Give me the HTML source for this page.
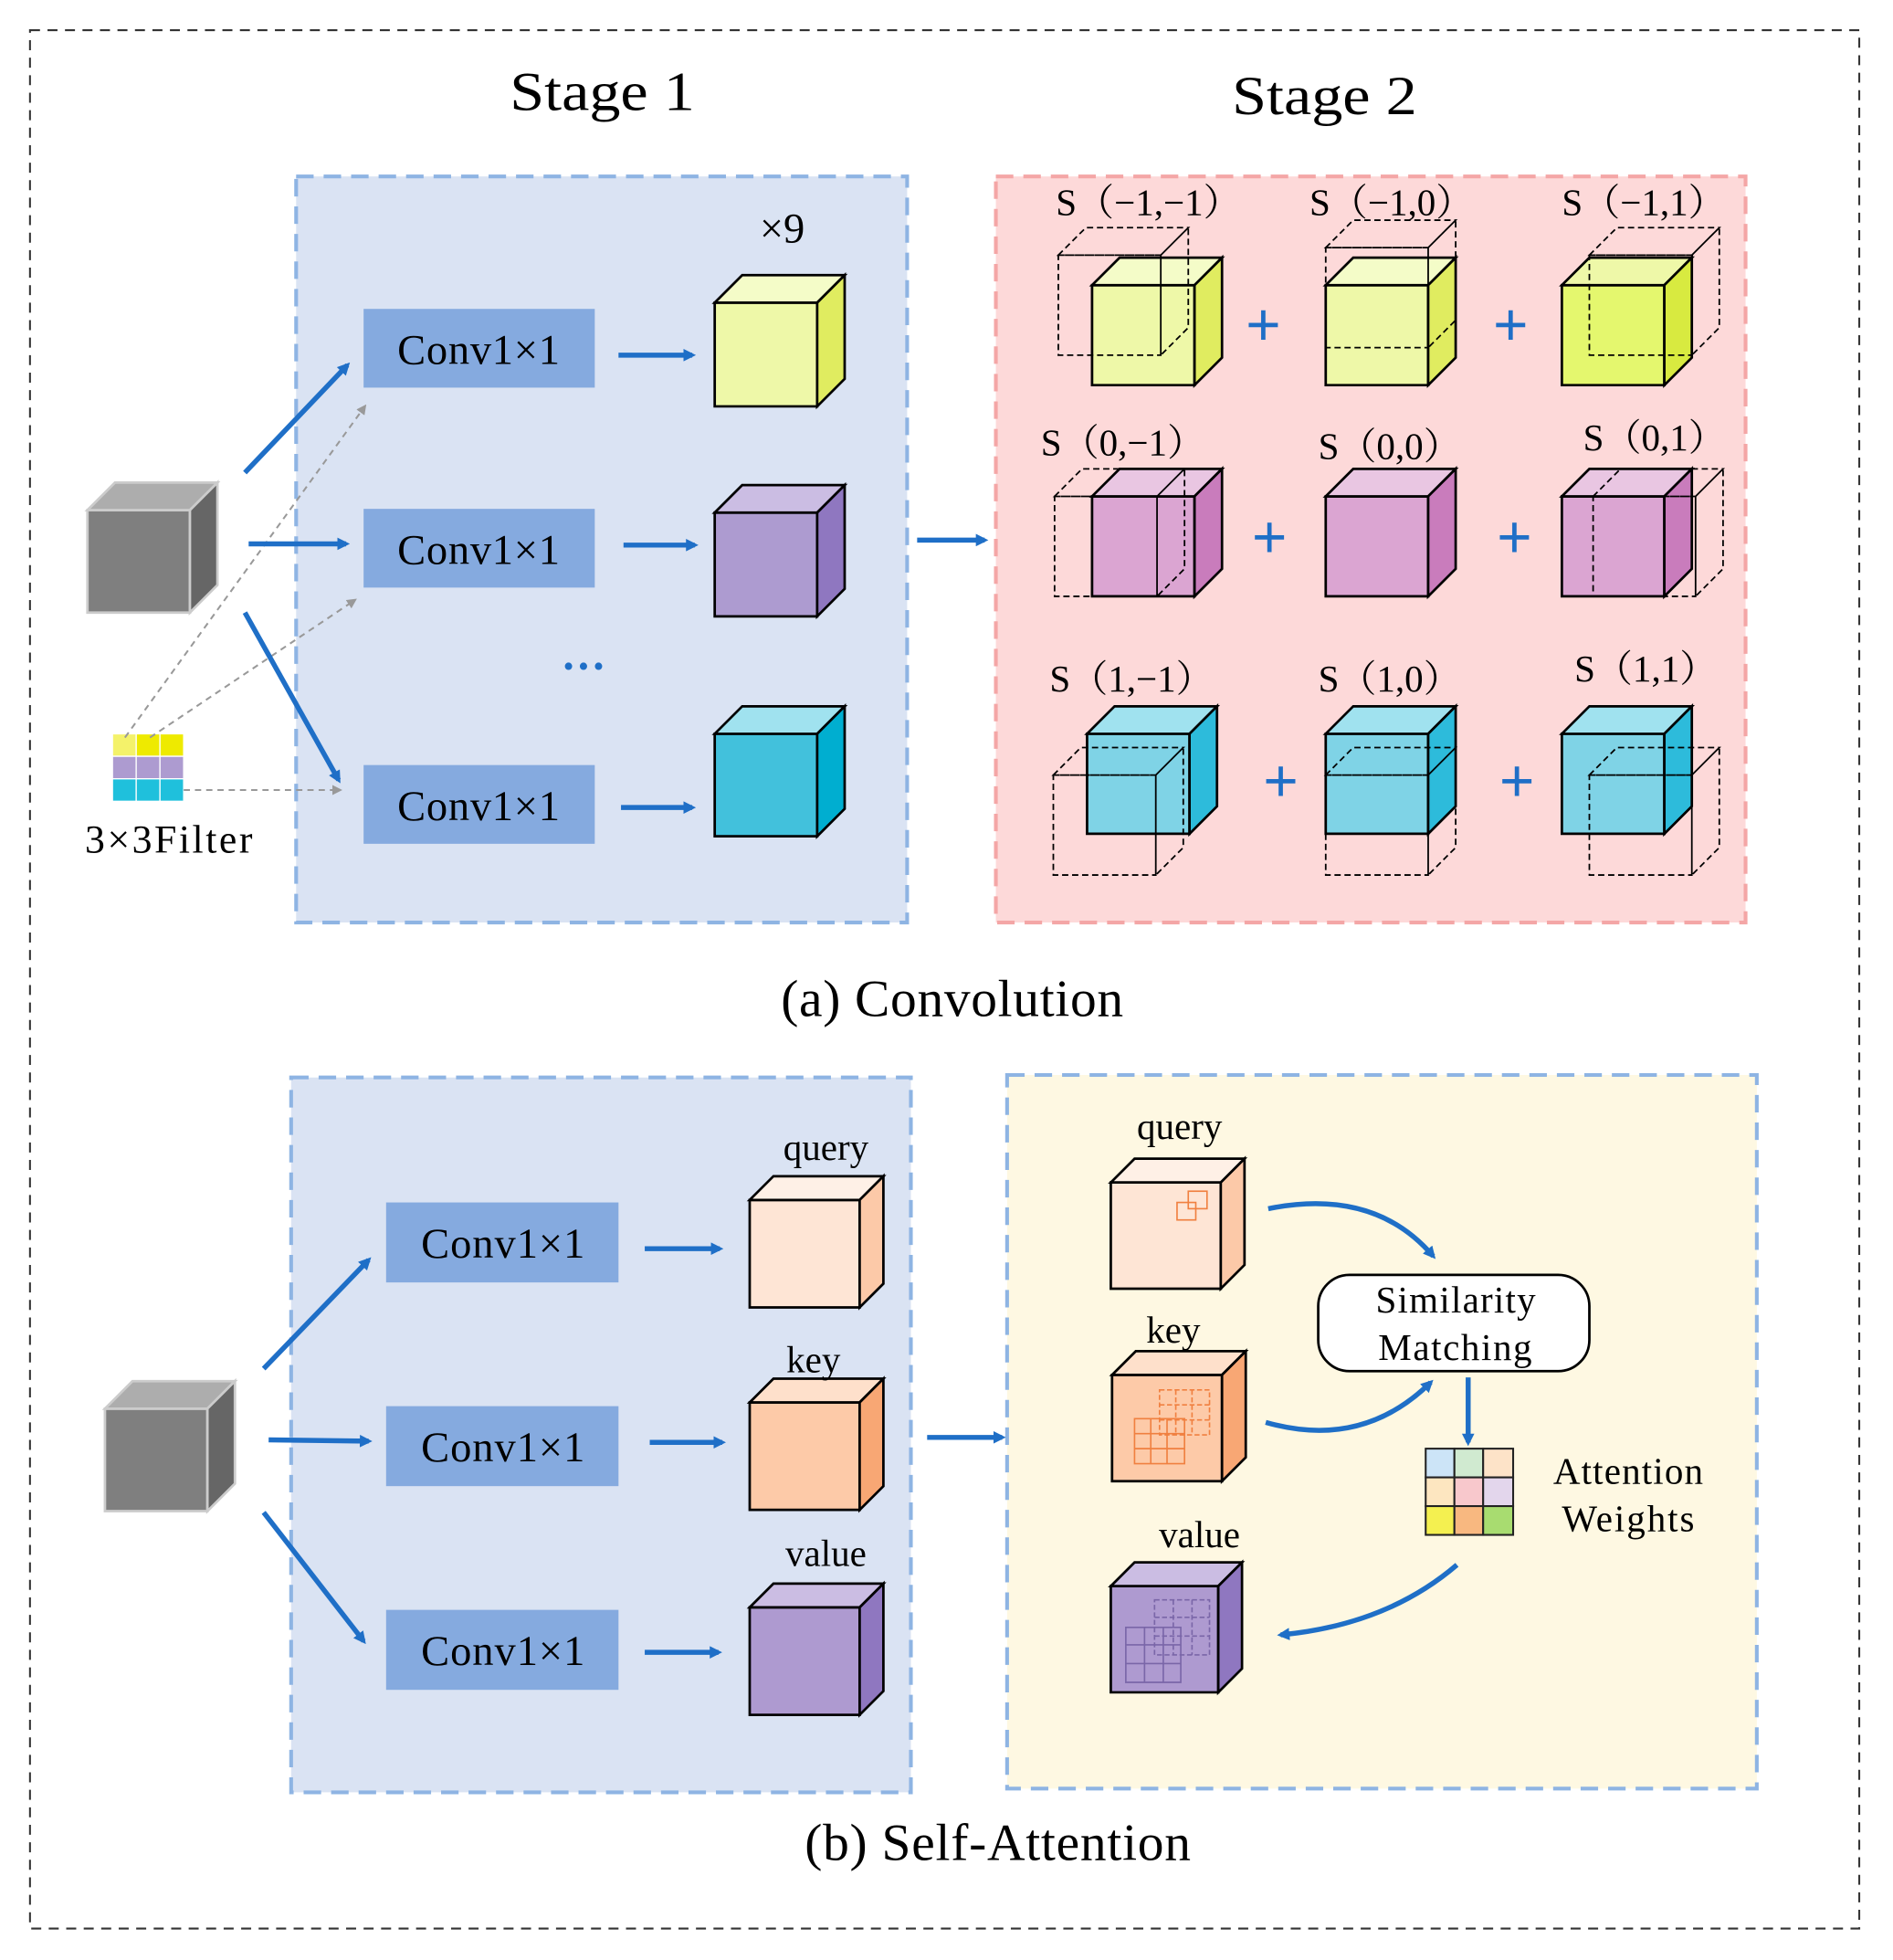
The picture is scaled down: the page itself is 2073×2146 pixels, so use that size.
<!DOCTYPE html>
<html><head><meta charset="utf-8"><style>html,body{margin:0;padding:0;background:#fff}svg{display:block}</style></head>
<body>
<svg width="2073" height="2146" viewBox="0 0 1515 1568" xmlns="http://www.w3.org/2000/svg" font-family="Liberation Serif, serif">
<defs>
<marker id="ah" markerWidth="10" markerHeight="10" refX="7" refY="5" orient="auto" markerUnits="userSpaceOnUse"><path d="M0,0 L10,5 L0,10 Z" fill="#1f6fc7"/></marker>
<marker id="ag" markerWidth="8" markerHeight="8" refX="6" refY="4" orient="auto" markerUnits="userSpaceOnUse"><path d="M0,0 L8,4 L0,8 Z" fill="#999"/></marker>
</defs>
<rect x="24" y="24" width="1464" height="1519" fill="none" stroke="#333" stroke-width="1.5" stroke-dasharray="8,6"/>
<text x="408" y="88" font-size="44" textLength="148" lengthAdjust="spacingAndGlyphs">Stage 1</text>
<text x="986" y="91" font-size="44" textLength="148" lengthAdjust="spacingAndGlyphs">Stage 2</text>
<rect x="237" y="141" width="489" height="597" fill="#dae3f3" stroke="#8eb4e3" stroke-width="3" stroke-dasharray="14,8"/>
<rect x="797" y="141" width="600" height="597" fill="#fdd9d9" stroke="#f4a6a6" stroke-width="3" stroke-dasharray="14,8"/>
<g fill="#85aadf"><rect x="291" y="247" width="185" height="63"/><rect x="291" y="407" width="185" height="63"/><rect x="291" y="612" width="185" height="63"/></g>
<g font-size="34"><text x="318" y="291" textLength="130">Conv1×1</text><text x="318" y="451" textLength="130">Conv1×1</text><text x="318" y="656" textLength="130">Conv1×1</text></g>
<g stroke="#000" stroke-width="2">
<path d="M572,242h82v83h-82z" fill="#eef8a8"/><path d="M572,242l22,-22h82l-22,22z" fill="#f4fcc8"/><path d="M654,242l22,-22v83l-22,22z" fill="#e0ec60"/>
<path d="M572,410h82v83h-82z" fill="#ad9bd0"/><path d="M572,410l22,-22h82l-22,22z" fill="#cbbde3"/><path d="M654,410l22,-22v83l-22,22z" fill="#8f77c0"/>
<path d="M572,587h82v82h-82z" fill="#42c1dc"/><path d="M572,587l22,-22h82l-22,22z" fill="#a0e2ef"/><path d="M654,587l22,-22v82l-22,22z" fill="#00aed0"/>
</g>
<g stroke="#ccc" stroke-width="2">
<path d="M70,408h82v82h-82z" fill="#7f7f7f"/><path d="M70,408l22,-22h82l-22,22z" fill="#adadad"/><path d="M152,408l22,-22v82l-22,22z" fill="#666"/>
</g>
<g stroke="#fff" stroke-width="1">
<rect x="90" y="587" width="19" height="18" fill="#f4f26a"/><rect x="109" y="587" width="19" height="18" fill="#eeea00"/><rect x="128" y="587" width="19" height="18" fill="#eeea00"/>
<rect x="90" y="605" width="19" height="18" fill="#ad9bd0"/><rect x="109" y="605" width="19" height="18" fill="#ad9bd0"/><rect x="128" y="605" width="19" height="18" fill="#ad9bd0"/>
<rect x="90" y="623" width="19" height="18" fill="#1fc0dc"/><rect x="109" y="623" width="19" height="18" fill="#1fc0dc"/><rect x="128" y="623" width="19" height="18" fill="#1fc0dc"/>
</g>
<text x="68" y="682" font-size="32" textLength="134">3×3Filter</text>
<text x="626" y="194" font-size="34" text-anchor="middle">×9</text>
<text x="467" y="545" font-size="36" fill="#1f6fc7" text-anchor="middle" font-weight="bold">···</text>
<g stroke="#999" stroke-width="1.5" stroke-dasharray="5,4" fill="none">
<path d="M100,590 L292,325" marker-end="url(#ag)"/><path d="M120,590 L284,480" marker-end="url(#ag)"/><path d="M147,632 L272,632" marker-end="url(#ag)"/>
</g>
<g stroke="#1f6fc7" stroke-width="4" fill="none">
<path d="M196,378 L278,292" marker-end="url(#ah)"/><path d="M199,435 L277,435" marker-end="url(#ah)"/><path d="M196,490 L271,624" marker-end="url(#ah)"/>
<path d="M495,284 L554,284" marker-end="url(#ah)"/><path d="M499,436 L556,436" marker-end="url(#ah)"/><path d="M497,646 L554,646" marker-end="url(#ah)"/>
<path d="M734,432 L788,432" marker-end="url(#ah)"/>
</g>
<g stroke="#000" stroke-width="2">
<path d="M874,228h82v80h-82z" fill="#eef8a8"/><path d="M874,228l22,-22h82l-22,22z" fill="#f4fcc8"/><path d="M956,228l22,-22v80l-22,22z" fill="#e0ec60"/>
<path d="M1061,228h82v80h-82z" fill="#eef8a8"/><path d="M1061,228l22,-22h82l-22,22z" fill="#f4fcc8"/><path d="M1143,228l22,-22v80l-22,22z" fill="#e0ec60"/>
<path d="M1250,228h82v80h-82z" fill="#e4f76e"/><path d="M1250,228l22,-22h82l-22,22z" fill="#eef8a8"/><path d="M1332,228l22,-22v80l-22,22z" fill="#d8ea40"/>
<path d="M874,397h82v80h-82z" fill="#dba5d2"/><path d="M874,397l22,-22h82l-22,22z" fill="#e9c6e2"/><path d="M956,397l22,-22v80l-22,22z" fill="#c97cbc"/>
<path d="M1061,397h82v80h-82z" fill="#dba5d2"/><path d="M1061,397l22,-22h82l-22,22z" fill="#e9c6e2"/><path d="M1143,397l22,-22v80l-22,22z" fill="#c97cbc"/>
<path d="M1250,397h82v80h-82z" fill="#dba5d2"/><path d="M1250,397l22,-22h82l-22,22z" fill="#e9c6e2"/><path d="M1332,397l22,-22v80l-22,22z" fill="#c97cbc"/>
<path d="M870,587h82v80h-82z" fill="#7fd3e6"/><path d="M870,587l22,-22h82l-22,22z" fill="#a0e2ef"/><path d="M952,587l22,-22v80l-22,22z" fill="#2dbbdb"/>
<path d="M1061,587h82v80h-82z" fill="#7fd3e6"/><path d="M1061,587l22,-22h82l-22,22z" fill="#a0e2ef"/><path d="M1143,587l22,-22v80l-22,22z" fill="#2dbbdb"/>
<path d="M1250,587h82v80h-82z" fill="#7fd3e6"/><path d="M1250,587l22,-22h82l-22,22z" fill="#a0e2ef"/><path d="M1332,587l22,-22v80l-22,22z" fill="#2dbbdb"/>
</g>
<g stroke="#000" stroke-width="1.3" stroke-dasharray="5,3" fill="none">
<path d="M847,204h82v80h-82z M847,204l22,-22h82l-22,22z M929,204l22,-22v80l-22,22z"/>
<path d="M1061,198h82v80h-82z M1061,198l22,-22h82l-22,22z M1143,198l22,-22v80l-22,22z"/>
<path d="M1272,204h82v80h-82z M1272,204l22,-22h82l-22,22z M1354,204l22,-22v80l-22,22z"/>
<path d="M844,397h82v80h-82z M844,397l22,-22h82l-22,22z M926,397l22,-22v80l-22,22z"/>
<path d="M1275,397h82v80h-82z M1275,397l22,-22h82l-22,22z M1357,397l22,-22v80l-22,22z"/>
<path d="M843,620h82v80h-82z M843,620l22,-22h82l-22,22z M925,620l22,-22v80l-22,22z"/>
<path d="M1061,620h82v80h-82z M1061,620l22,-22h82l-22,22z M1143,620l22,-22v80l-22,22z"/>
<path d="M1272,620h82v80h-82z M1272,620l22,-22h82l-22,22z M1354,620l22,-22v80l-22,22z"/>
</g>
<g font-size="30" font-family="Liberation Serif, 'Noto Serif CJK SC', serif">
<text x="845" y="172">S（−1,−1）</text><text x="1048" y="172">S（−1,0）</text><text x="1250" y="172">S（−1,1）</text>
<text x="833" y="364">S（0,−1）</text><text x="1055" y="367">S（0,0）</text><text x="1267" y="360">S（0,1）</text>
<text x="840" y="553">S（1,−1）</text><text x="1055" y="553">S（1,0）</text><text x="1260" y="545">S（1,1）</text>
</g>
<g font-size="48" fill="#1f6fc7" text-anchor="middle" font-family="Liberation Sans, sans-serif">
<text x="1011" y="276">+</text><text x="1209" y="276">+</text>
<text x="1016" y="446">+</text><text x="1212" y="446">+</text>
<text x="1025" y="641">+</text><text x="1214" y="641">+</text>
</g>
<text x="625" y="813" font-size="42" textLength="274">(a) Convolution</text>
<rect x="233" y="862" width="496" height="572" fill="#dae3f3" stroke="#8eb4e3" stroke-width="3" stroke-dasharray="14,8"/>
<rect x="806" y="860" width="600" height="571" fill="#fef8e2" stroke="#8eb4e3" stroke-width="3" stroke-dasharray="14,8"/>
<g fill="#85aadf"><rect x="309" y="962" width="186" height="64"/><rect x="309" y="1125" width="186" height="64"/><rect x="309" y="1288" width="186" height="64"/></g>
<g font-size="34"><text x="337" y="1006" textLength="131">Conv1×1</text><text x="337" y="1169" textLength="131">Conv1×1</text><text x="337" y="1332" textLength="131">Conv1×1</text></g>
<g stroke="#000" stroke-width="2">
<path d="M600,960h88v86h-88z" fill="#fee5d5"/><path d="M600,960l19,-19h88l-19,19z" fill="#fef0e6"/><path d="M688,960l19,-19v86l-19,19z" fill="#fcc9a8"/>
<path d="M600,1122h88v86h-88z" fill="#fdcaa8"/><path d="M600,1122l19,-19h88l-19,19z" fill="#fee0cb"/><path d="M688,1122l19,-19v86l-19,19z" fill="#f8a774"/>
<path d="M600,1286h88v86h-88z" fill="#ae9ad0"/><path d="M600,1286l19,-19h88l-19,19z" fill="#cbbde3"/><path d="M688,1286l19,-19v86l-19,19z" fill="#8f77c0"/>
<path d="M889,946h88v85h-88z" fill="#fee5d5"/><path d="M889,946l19,-19h88l-19,19z" fill="#fef0e6"/><path d="M977,946l19,-19v85l-19,19z" fill="#fcc9a8"/>
<path d="M890,1100h88v85h-88z" fill="#fdcaa8"/><path d="M890,1100l19,-19h88l-19,19z" fill="#fee0cb"/><path d="M978,1100l19,-19v85l-19,19z" fill="#f8a774"/>
<path d="M889,1269h86v85h-86z" fill="#ae9ad0"/><path d="M889,1269l19,-19h86l-19,19z" fill="#cbbde3"/><path d="M975,1269l19,-19v85l-19,19z" fill="#8f77c0"/>
</g>
<g stroke="#ccc" stroke-width="2">
<path d="M84,1127h82v82h-82z" fill="#7f7f7f"/><path d="M84,1127l22,-22h82l-22,22z" fill="#adadad"/><path d="M166,1127l22,-22v82l-22,22z" fill="#666"/>
</g>
<g fill="none" stroke-width="1.2">
<rect x="942" y="962" width="15" height="14" stroke="#f08040"/><rect x="951" y="953" width="15" height="14" stroke="#f08040"/>
<path d="M908,1135h40v36h-40z M908,1147h40 M908,1159h40 M921,1135v36 M934,1135v36" stroke="#f08040"/>
<path d="M928,1112h40v36h-40z M928,1124h40 M928,1136h40 M941,1112v36 M954,1112v36" stroke="#f08040" stroke-dasharray="4,2"/>
<path d="M901,1302h44v44h-44z M901,1316h44 M901,1331h44 M916,1302v44 M931,1302v44" stroke="#7a66a8"/>
<path d="M924,1280h44v44h-44z M924,1294h44 M924,1309h44 M939,1280v44 M954,1280v44" stroke="#7a66a8" stroke-dasharray="4,2"/>
</g>
<g font-size="30" text-anchor="middle">
<text x="661" y="928">query</text><text x="651" y="1098">key</text><text x="661" y="1253">value</text>
<text x="944" y="911">query</text><text x="939" y="1074">key</text><text x="960" y="1238">value</text>
</g>
<rect x="1055" y="1020" width="217" height="77" rx="25" fill="#fff" stroke="#000" stroke-width="2"/>
<text x="1101" y="1050" font-size="30" textLength="128">Similarity</text>
<text x="1103" y="1088" font-size="30" textLength="123">Matching</text>
<g stroke="#222" stroke-width="1.5">
<rect x="1141" y="1159" width="23" height="23" fill="#cce4f7"/><rect x="1164" y="1159" width="23" height="23" fill="#d0ead0"/><rect x="1187" y="1159" width="24" height="23" fill="#fde3c8"/>
<rect x="1141" y="1182" width="23" height="23" fill="#fde6c0"/><rect x="1164" y="1182" width="23" height="23" fill="#f8c8cc"/><rect x="1187" y="1182" width="24" height="23" fill="#e3d6ec"/>
<rect x="1141" y="1205" width="23" height="23" fill="#f4f050"/><rect x="1164" y="1205" width="23" height="23" fill="#f8b880"/><rect x="1187" y="1205" width="24" height="23" fill="#a8dc70"/>
</g>
<text x="1243" y="1187" font-size="30" textLength="120">Attention</text>
<text x="1250" y="1225" font-size="30" textLength="106">Weights</text>
<g stroke="#1f6fc7" stroke-width="4" fill="none">
<path d="M211,1095 L295,1008" marker-end="url(#ah)"/><path d="M215,1152 L295,1153" marker-end="url(#ah)"/><path d="M211,1210 L291,1313" marker-end="url(#ah)"/>
<path d="M516,999 L576,999" marker-end="url(#ah)"/><path d="M520,1154 L578,1154" marker-end="url(#ah)"/><path d="M516,1322 L575,1322" marker-end="url(#ah)"/>
<path d="M742,1150 L802,1150" marker-end="url(#ah)"/>
<path d="M1015,967 Q1100,950 1147,1005" marker-end="url(#ah)"/>
<path d="M1013,1138 Q1090,1160 1145,1106" marker-end="url(#ah)"/>
<path d="M1175,1102 L1175,1154" marker-end="url(#ah)"/>
<path d="M1166,1252 Q1110,1300 1025,1308" marker-end="url(#ah)"/>
</g>
<text x="644" y="1488" font-size="42" textLength="309">(b) Self-Attention</text>
</svg>
</body></html>
